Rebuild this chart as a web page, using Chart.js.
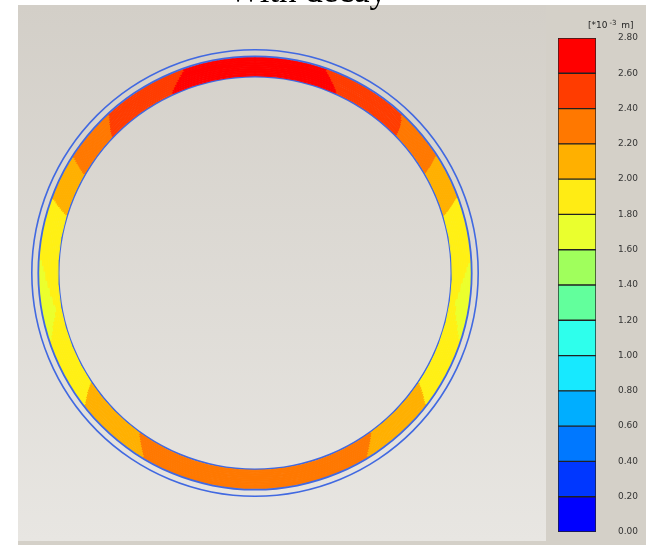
<!DOCTYPE html>
<html>
<head>
<meta charset="utf-8">
<title>With decay</title>
<style>
html,body{margin:0;padding:0;background:#fff;width:646px;height:545px;overflow:hidden}
#plot{position:absolute;left:18px;top:5px;width:528px;height:536px;background:linear-gradient(#d3cfc8,#e8e6e2)}
#side{position:absolute;left:546px;top:5px;width:100px;height:540px;background:#d4d0c8}
#foot{position:absolute;left:18px;top:541px;width:528px;height:4px;background:#d4d0c8}
#title{position:absolute;left:228px;top:-29px;font:35px/40px "Liberation Serif",serif;color:#000;white-space:nowrap;z-index:5}
#unit{position:absolute;left:588px;top:19px;font:9px/12px "DejaVu Sans",sans-serif;color:#222;white-space:nowrap;z-index:5}
#unit sup{font-size:7px;line-height:0;vertical-align:3px;margin:0 2px}
canvas{position:absolute;left:0;top:0}
</style>
<script src="https://cdn.jsdelivr.net/npm/chart.js@4"></script>
</head>
<body>
<div id="plot"></div><div id="side"></div><div id="foot"></div>
<div id="title">With decay</div>
<div id="unit">[*10<sup>-3</sup> m]</div>
<canvas id="ring" width="646" height="545"></canvas>
<canvas id="bar" width="646" height="545"></canvas>
<script>
// Colour scale, from 0.00 upwards (x10^-3 m)
const tickLabels = ["0.00","0.20","0.40","0.60","0.80","1.00","1.20","1.40","1.60","1.80","2.00","2.20","2.40","2.60","2.80"];
const bandColors = ["#0000ff","#0037ff","#0078ff","#00aeff","#17e9ff","#2effec","#62ff9c","#a0ff5c","#eaff2e","#ffec14","#ffb000","#ff7800","#ff3c00","#ff0000"];
const bandSize = [0.2,0.2,0.2,0.2,0.2,0.2,0.2,0.2,0.2,0.2,0.2,0.2,0.2,0.2];

// Colour of each contour zone going clockwise from the top of the ring
const RED="#ff0000", ORED="#ff3c00", ORG="#ff7800", AMB="#ffb000", YEL="#fff014", LIME="#ebff2c";
const zoneColors = [RED,ORED,ORG,AMB,YEL,LIME,YEL,AMB,ORG,AMB,YEL,LIME,YEL,AMB,ORG,ORED,RED];

// Angular end of each zone (degrees clockwise from the top), read for ten radial layers, outer to inner
const layer01 = [19.5,43.0,57.3,69.8,87.5,108.0,127.6,148.6,211.4,232.4,252.0,273.5,290.1,302.5,317.2,340.6,360];
const layer02 = [20.0,43.5,57.6,70.2,88.5,107.0,127.2,148.1,211.9,232.9,253.0,272.0,289.8,302.2,316.8,340.0,360];
const layer03 = [20.6,44.0,57.9,70.6,90.0,106.0,126.8,147.6,212.4,233.3,254.0,270.5,289.4,301.9,316.4,339.4,360];
const layer04 = [21.2,44.3,58.2,71.0,91.5,104.5,126.3,147.1,212.9,233.8,255.5,268.0,289.0,301.6,316.0,338.8,360];
const layer05 = [21.7,44.7,58.5,71.4,93.0,103.5,125.9,146.6,213.4,234.2,256.5,266.0,288.7,301.4,315.6,338.2,360];
const layer06 = [22.3,45.0,58.8,71.8,95.5,102.0,125.5,146.1,213.9,234.7,257.5,263.5,288.4,301.1,315.2,337.6,360];
const layer07 = [22.9,45.2,59.0,72.2,97.5,99.5,125.1,145.6,214.4,235.1,259.0,261.0,288.0,300.8,314.8,337.0,360];
const layer08 = [23.4,45.4,59.2,72.5,98.0,98.0,124.7,145.1,214.9,235.5,260.0,260.0,287.7,300.6,314.4,336.4,360];
const layer09 = [24.0,45.6,59.5,72.9,98.0,98.0,124.4,144.6,215.4,235.9,260.0,260.0,287.4,300.3,314.1,335.8,360];
const layer10 = [24.4,45.8,59.7,73.2,98.0,98.0,124.0,144.2,215.8,236.2,260.0,260.0,287.1,300.1,313.8,335.4,360];

const BLUE = "#4169e1";
const spans = ends => ends.map((e,i)=> e-(i?ends[i-1]:0));
const colourLayer = ends => ({data:spans(ends),backgroundColor:zoneColors,borderColor:zoneColors,borderWidth:1,weight:1.85});

new Chart(document.getElementById('ring'),{
  type:'doughnut',
  data:{datasets:[
    {data:[360],backgroundColor:BLUE,borderWidth:0,weight:1.6},
    {data:[360],backgroundColor:'rgba(0,0,0,0)',borderWidth:0,weight:4.8},
    {data:[360],backgroundColor:BLUE,borderWidth:0,weight:1.8},
    colourLayer(layer01),colourLayer(layer02),colourLayer(layer03),colourLayer(layer04),colourLayer(layer05),
    colourLayer(layer06),colourLayer(layer07),colourLayer(layer08),colourLayer(layer09),colourLayer(layer10),
    {data:[360],backgroundColor:BLUE,borderWidth:0,weight:1.8}
  ]},
  options:{
    responsive:false,animation:false,cutout:195.5,rotation:0,circumference:360,
    layout:{padding:{left:31,right:167,top:49,bottom:48}},
    plugins:{legend:{display:false},tooltip:{enabled:false}}
  }
});

new Chart(document.getElementById('bar'),{
  type:'bar',
  data:{labels:['scale'],datasets:bandSize.map((v,i)=>({
    label:tickLabels[i]+'-'+tickLabels[i+1],data:[v],backgroundColor:bandColors[i],
    borderColor:'#222',borderWidth:1,borderSkipped:false,barPercentage:1,categoryPercentage:1
  }))},
  options:{
    responsive:false,animation:false,
    layout:{padding:{left:558,right:7,top:38,bottom:13}},
    scales:{
      x:{stacked:true,display:false},
      y:{stacked:true,position:'right',min:0,max:2.8,
        grid:{display:false},border:{display:false},
        afterFit(s){s.width=43;s.paddingTop=0;s.paddingBottom=0;},
        ticks:{stepSize:0.2,padding:14,color:'#333',font:{family:'"DejaVu Sans"',size:9},
          autoSkip:false,callback:(v,i)=>tickLabels[i]}
      }
    },
    plugins:{legend:{display:false},tooltip:{enabled:false}}
  }
});
</script>
</body>
</html>
